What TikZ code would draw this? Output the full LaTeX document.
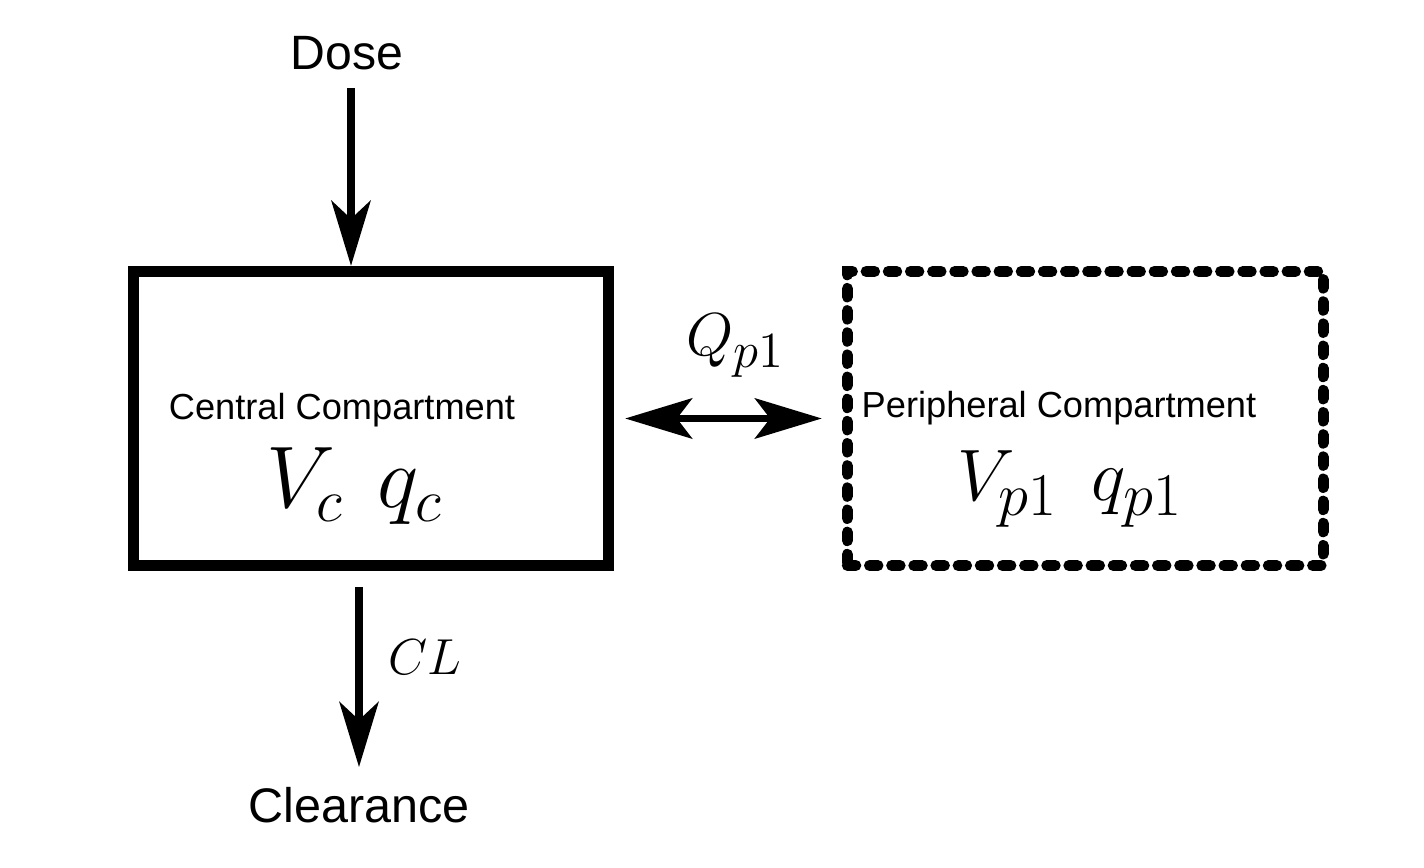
\documentclass[tikz,border=0pt]{standalone}
\usepackage{fontspec}
\newfontfamily\helv{Liberation Sans}
\DeclareMathSizes{24}{24}{19}{15}
\DeclareMathSizes{21}{21}{17}{13}
\DeclareMathSizes{18.5}{18.5}{14.5}{11}
\usetikzlibrary{arrows.meta}
\begin{document}
\begin{tikzpicture}[x=0.01cm,y=-0.01cm,
  box/.style={draw, line width=3.13pt, minimum width=4.745cm, minimum height=2.94cm, inner sep=0pt},
  dbox/.style={box, dash pattern=on 2.4pt off 3.9pt, line cap=round},
  arr/.style={line width=2.3pt, -{Stealth[length=18.5pt, width=11.1pt, inset=5.1pt]}},
  darr/.style={line width=2.2pt, {Stealth[length=19pt, width=11.4pt, inset=4.3pt]}-{Stealth[length=19pt, width=11.4pt, inset=4.3pt]}},
  lbl/.style={inner sep=0pt, anchor=base},
  sans/.style={lbl, font=\helv\fontsize{#1}{#1}\selectfont},
  mth/.style={lbl, font=\fontsize{#1}{#1}\selectfont}
]
\useasboundingbox (0,0) rectangle (1424,868);
\node[box] (central) at (370.75,418.5) {};
\node[dbox, minimum width=4.755cm] (peri) at (1085.25,418.5) {};
\node[sans=13.7] (dose) at (347,70) {Dose};
\node[sans=13.8] (clear) at (359,823) {Clearance};
\node[sans=10.3] (clab) at (342,420) {Central Compartment};
\node[sans=10.3] (plab) at (1059,418) {Peripheral Compartment};
\node[mth=24] (cvars) at (355,508) {$V_c\hspace{0.4em}q_c$};
\node[mth=21] (pvars) at (1070,501) {$V_{p1}\hspace{0.45em}q_{p1}$};
\node[mth=18.5] (qlab) at (736,356) {$Q_{p1}$};
\node[mth=15.2, anchor=base west] (cl) at (388,675) {$CL$};
\coordinate (dosetop) at (351,88);
\coordinate (cltop) at (359,587);
\draw[arr] (dosetop) -- (dosetop |- central.north);
\draw[arr, shorten >=0.2cm] (cltop) -- (cltop |- clear.north);
\draw[darr, shorten <=0.115cm, shorten >=0.2cm] (central.east) -- (peri.west);
\end{tikzpicture}
\end{document}
